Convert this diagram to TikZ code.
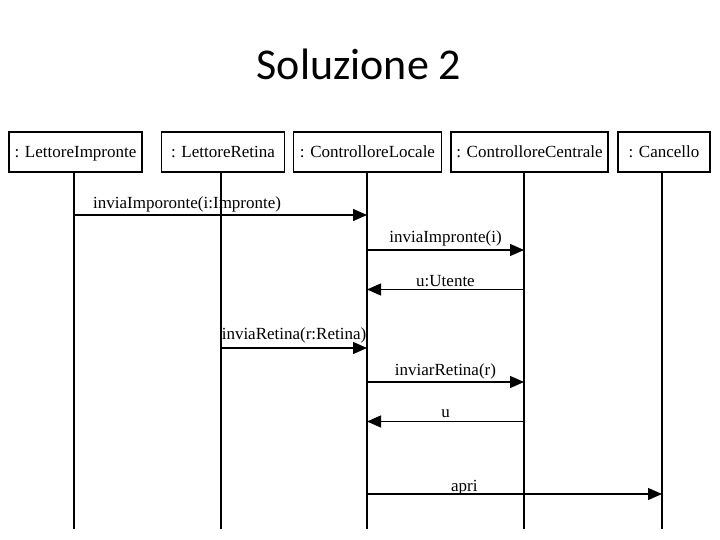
\documentclass[tikz,border=0pt]{standalone}
\usepackage{fontspec}
\setmainfont{Liberation Serif}
\newfontfamily\titlefont{Carlito}
\usetikzlibrary{arrows.meta, positioning}
\tikzstyle{objbox} = [rectangle, draw=black, line width=1.2pt, minimum height=40pt,
                      inner sep=0pt, text height=14pt, text depth=2pt,
                      align=center, font=\fontsize{17}{20}\selectfont]
\tikzstyle{lifeline} = [line width=1.2pt, black]
\tikzstyle{msg} = [line width=1.2pt, -{Triangle[length=14pt,width=12pt]}, black]
\tikzstyle{msglabel} = [anchor=base, inner sep=0pt, font=\fontsize{17}{20}\selectfont]

\begin{document}
\begin{tikzpicture}[x=1pt, y=-1pt]
    \useasboundingbox (0,0) rectangle (720,540);

    % Title
    \node[anchor=base, font=\titlefont\fontsize{44}{52}\selectfont] (title) at (359,80) {Soluzione 2};

    % Objects
    \node[objbox, minimum width=133pt] (impronte) at (75.5,152) {: LettoreImpronte};
    \node[objbox, minimum width=123pt] (retina) at (223,152) {: LettoreRetina};
    \node[objbox, minimum width=148pt] (locale) at (367.5,152) {: ControlloreLocale};
    \node[objbox, minimum width=157pt] (centrale) at (529.5,152) {: ControlloreCentrale};
    \node[objbox, minimum width=92pt] (cancello) at (664,152) {: Cancello};

    % Lifelines
    \coordinate (endimpronte) at (74,529);
    \coordinate (endretina) at (221,529);
    \coordinate (endlocale) at (367,529);
    \coordinate (endcentrale) at (524,529);
    \coordinate (endcancello) at (662,529);
    \draw[lifeline] (impronte.south -| endimpronte) -- (endimpronte);
    \draw[lifeline] (retina.south -| endretina) -- (endretina);
    \draw[lifeline] (locale.south -| endlocale) -- (endlocale);
    \draw[lifeline] (centrale.south -| endcentrale) -- (endcentrale);
    \draw[lifeline] (cancello.south -| endcancello) -- (endcancello);

    % Message rows
    \coordinate (m1) at (0,215);
    \coordinate (m2) at (0,250);
    \coordinate (m3) at (0,289.5);
    \coordinate (m4) at (0,348);
    \coordinate (m5) at (0,382);
    \coordinate (m6) at (0,421.5);
    \coordinate (m7) at (0,494);

    % Messages
    \draw[msg] (endimpronte |- m1) -- node[msglabel, pos=.386, yshift=7pt] {inviaImporonte(i:Impronte)} (endlocale |- m1);
    \draw[msg] (endlocale |- m2) -- node[msglabel, yshift=7pt] {inviaImpronte(i)} (endcentrale |- m2);
    \draw[msg] (endcentrale |- m3) -- node[msglabel, yshift=3.5pt] {u:Utente} (endlocale |- m3);
    \draw[msg] (endretina |- m4) -- node[msglabel, yshift=8.5pt] {inviaRetina(r:Retina)} (endlocale |- m4);
    \draw[msg] (endlocale |- m5) -- node[msglabel, yshift=7pt] {inviarRetina(r)} (endcentrale |- m5);
    \draw[msg] (endcentrale |- m6) -- node[msglabel, yshift=4pt] {u} (endlocale |- m6);
    \draw[msg] (endlocale |- m7) -- node[msglabel, pos=.33, yshift=3pt] {apri} (endcancello |- m7);
\end{tikzpicture}
\end{document}
